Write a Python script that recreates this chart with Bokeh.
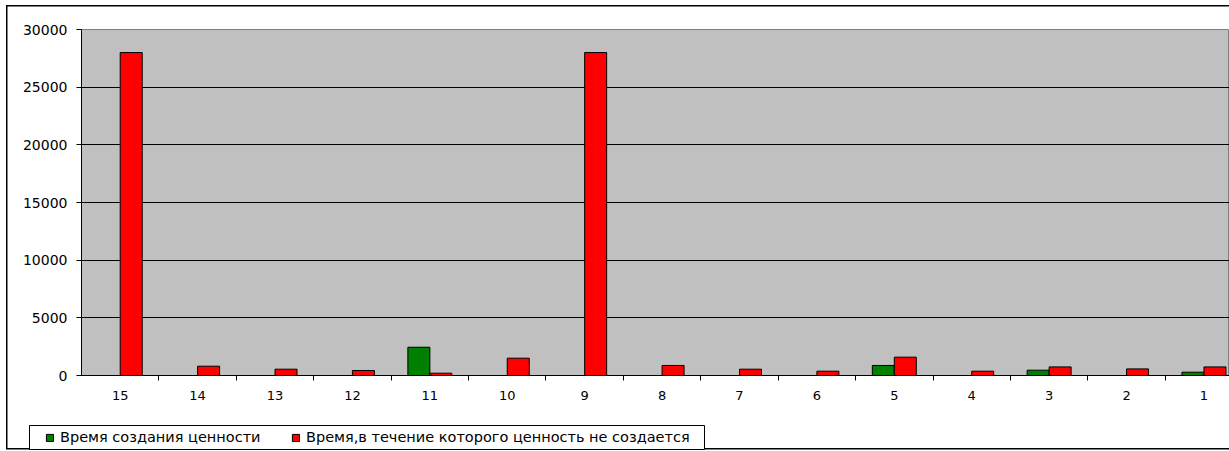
from bokeh.plotting import figure
from bokeh.layouts import column
from bokeh.models import ColumnDataSource, Range1d, FixedTicker, Legend, LegendItem
from bokeh.embed import file_html
from bokeh.resources import INLINE

# Process steps (right to left in the value stream) and their times
categories = ["15", "14", "13", "12", "11", "10", "9", "8", "7", "6", "5", "4", "3", "2", "1"]
value_time = [0, 0, 0, 0, 2450, 0, 0, 0, 0, 0, 870, 0, 460, 0, 286]
waste_time = [28000, 806, 546, 433, 200, 1500, 28000, 870, 546, 373, 1590, 373, 745, 572, 745]
y_ticks = [0, 5000, 10000, 15000, 20000, 25000, 30000]

series_names = ["Время создания ценности",
                "Время,в течение которого ценность не создается"]
series_colors = ["#008000", "#FF0000"]

FONT = "DejaVu Sans"
BAR_W = 0.284

p = figure(width=1229, height=412, output_backend="svg", toolbar_location=None,
           x_range=Range1d(0, 14.83), y_range=Range1d(0, 30000),
           min_border_left=81, min_border_right=0, min_border_top=29, min_border_bottom=37,
           background_fill_color="#C0C0C0", border_fill_alpha=0)
p.outline_line_color = "#808080"
p.outline_line_width = 1

centers = [i + 0.5 for i in range(len(categories))]

for k, (vals, color) in enumerate(zip([value_time, waste_time], series_colors)):
    offset = -BAR_W / 2 if k == 0 else BAR_W / 2
    xs = [c + offset for c, v in zip(centers, vals) if v > 0]
    tops = [v for v in vals if v > 0]
    src = ColumnDataSource(dict(x=xs, top=tops))
    p.vbar(x="x", top="top", bottom=0, width=BAR_W, source=src,
           fill_color=color, line_color="black", line_width=1)

# grid
p.xgrid.visible = False
p.ygrid.ticker = FixedTicker(ticks=y_ticks[1:-1])
p.ygrid.grid_line_color = "black"
p.ygrid.grid_line_width = 1

# x axis: labels at category centres, tick marks at boundaries
xa = p.xaxis[0]
xa.ticker = FixedTicker(ticks=centers, minor_ticks=list(range(1, len(categories))))
xa.major_label_overrides = {c: lab for c, lab in zip(centers, categories)}
xa.major_tick_in = 0
xa.major_tick_out = 0
xa.minor_tick_in = 0
xa.minor_tick_out = 5
xa.minor_tick_line_color = "black"
xa.axis_line_color = "black"
xa.major_label_standoff = 10
xa.major_label_text_font = FONT
xa.major_label_text_font_size = "13px"
xa.major_label_text_color = "black"

ya = p.yaxis[0]
ya.ticker = FixedTicker(ticks=y_ticks)
ya.major_tick_in = 0
ya.major_tick_out = 5
ya.minor_tick_out = 0
ya.minor_tick_in = 0
ya.major_tick_line_color = "black"
ya.axis_line_color = "black"
ya.major_label_standoff = 9
ya.major_label_text_font = FONT
ya.major_label_text_font_size = "14px"
ya.major_label_text_color = "black"

# legend strip under the chart: its framed area is the legend box
lp = figure(width=757, height=39, output_backend="svg", toolbar_location=None,
            x_range=Range1d(0, 1), y_range=Range1d(0, 1),
            x_axis_location=None, y_axis_location=None,
            min_border_left=81, min_border_right=0, min_border_top=13, min_border_bottom=2,
            background_fill_color="white", border_fill_alpha=0,
            outline_line_color="black", outline_line_width=1,
            styles={"position": "relative", "left": "-52px"})
lp.xgrid.visible = False
lp.ygrid.visible = False
keys = []
for name, color in zip(series_names, series_colors):
    # key swatch renderers; their single bar lies outside the strip's ranges
    r = lp.vbar(x=[-5], top=[-5], bottom=-6, width=1, fill_color=color,
                line_color="black", line_width=1)
    keys.append(LegendItem(label=name, renderers=[r]))

legend = Legend(items=keys, orientation="horizontal", location=(16, 4),
                border_line_color=None, background_fill_alpha=0,
                label_text_font=FONT, label_text_font_size="14.5px", label_text_color="black",
                glyph_width=9, glyph_height=9, label_standoff=6,
                padding=0, margin=0, spacing=28, label_width=203, label_height=16)
lp.add_layout(legend, "center")

# chart area frame; its right edge runs off the page
page = column(p, lp, spacing=0,
              styles={"background-color": "white",
                      "box-shadow": ("inset 6px 0 0 0 white, inset 0 5px 0 0 white, inset 0 -1.5px 0 0 white, "
                                     "inset 7.5px 0 0 0 black, inset 0 6.5px 0 0 black, inset 0 -3px 0 0 black")})

open("out.html", "w").write(file_html(page, INLINE))
